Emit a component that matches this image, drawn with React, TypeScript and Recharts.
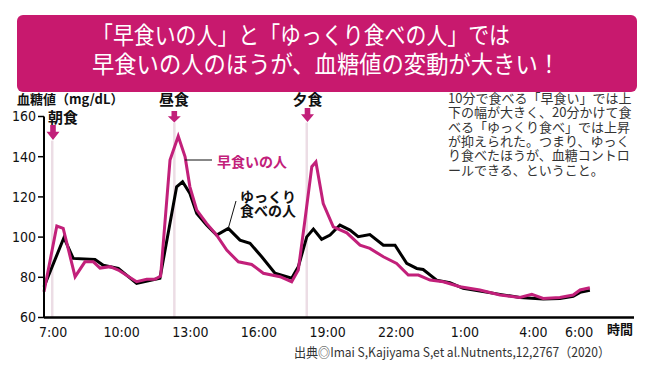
import { LineChart, Line, XAxis, YAxis, ReferenceLine } from "recharts";

// 早食い (10分) — time in hours from midnight (25 = 1:00 next day)
const fastHours = [6.6, 7.16, 7.44, 7.96, 8.39, 8.76, 9.05, 9.49, 9.85, 10.65, 11.09, 11.45, 11.7, 12.11, 12.47, 12.77, 12.98, 13.28, 13.71, 14.15, 14.59, 15.1, 15.68, 16.19, 16.92, 17.43, 17.72, 18.01, 18.31, 18.49, 18.81, 19.25, 19.84, 20.42, 20.85, 21.44, 22.02, 22.53, 22.97, 23.48, 24.06, 24.79, 25.66, 26.54, 27.41, 27.93, 28.43, 29.16, 29.74, 30.04, 30.47];
const fastValues = [72.8, 105.5, 104.3, 80.3, 87.7, 87.7, 84.6, 85.3, 83.6, 77.8, 79, 79, 80.6, 138.3, 150.2, 139.9, 125, 113.4, 106.8, 101, 93.5, 87.7, 86.4, 82, 80.3, 77.8, 83.6, 108.4, 135, 137.4, 116.7, 105.1, 102.1, 96, 94.4, 90.2, 86.9, 81.1, 81.1, 78.6, 77.8, 75.3, 73.7, 71.2, 70, 71.5, 69.5, 70, 71.2, 73.7, 74.8];

// ゆっくり食べ (20分)
const slowHours = [6.6, 7.47, 7.88, 8.83, 9.19, 9.85, 10.65, 11.67, 12.4, 12.66, 12.98, 13.28, 13.71, 14.15, 14.66, 15.17, 15.61, 16.12, 16.7, 17.43, 17.72, 18.09, 18.38, 18.74, 19.11, 19.54, 19.98, 20.34, 20.85, 21.44, 21.95, 22.46, 22.9, 23.18, 23.77, 24.35, 24.93, 25.66, 26.54, 27.41, 28.43, 29.16, 29.74, 30.04, 30.47];
const slowValues = [75.3, 99.7, 89.4, 88.9, 86, 84.4, 77, 79.5, 125, 127.5, 121.7, 111.8, 106, 101, 104.3, 98.5, 96.9, 90.2, 82, 79.5, 85.2, 100.1, 104, 98.9, 101, 106, 103.5, 100.2, 101.3, 96, 96, 86.9, 84.4, 83.9, 78.6, 77.3, 74.5, 73.2, 71.5, 70, 69.2, 69.5, 70.5, 72.5, 73.5];

const xTicks = [7, 10, 13, 16, 19, 22, 25, 28, 30];
const yTicks = [60, 80, 100, 120, 140, 160];
const mealHours = [6.96, 12.3, 18.09];
const mealTops = [148, 157, 157];

const noteLines = [
  "10分で食べる「早食い」では上",
  "下の幅が大きく、20分かけて食",
  "べる「ゆっくり食べ」では上昇",
  "が抑えられた。つまり、ゆっく",
  "り食べたほうが、血糖コントロ",
  "ールできる、ということ。",
];

const PINK = "#c2207a";
const BANNER = "#c8196e";
const JP = "'Noto Sans CJK JP', 'Noto Sans', sans-serif";
const NUM = "'Liberation Sans Narrow', 'DejaVu Sans Condensed', Roboto, sans-serif";

const fastData = fastHours.map((h, i) => ({ h, v: fastValues[i] }));
const slowData = slowHours.map((h, i) => ({ h, v: slowValues[i] }));

function Arrow({ cx, top, bottom }: { cx: number; top: number; bottom: number }) {
  const head = (bottom - top) * 0.55;
  const mid = bottom - head;
  return (
    <polygon
      fill={PINK}
      points={`${cx - 2.8},${top} ${cx + 2.8},${top} ${cx + 2.8},${mid} ${cx + 6.5},${mid} ${cx},${bottom} ${cx - 6.5},${mid} ${cx - 2.8},${mid}`}
    />
  );
}

export default function App() {
  return (
    <div style={{ position: "absolute", left: 0, top: 0, width: 650, height: 368, background: "#fff", overflow: "hidden" }}>
      <div style={{ position: "absolute", left: 0, top: 0 }}>
        <LineChart width={650} height={368} margin={{ top: 116.5, right: 16, bottom: 20.5, left: 0 }}>
          <XAxis
            dataKey="h"
            type="number"
            domain={[6.6, 32.4]}
            ticks={xTicks}
            allowDecimals
            tickFormatter={(h: number) => `${h % 24}:00`}
            tickLine={false}
            axisLine={{ stroke: "#000", strokeWidth: 2.5 }}
            tick={{ fill: "#111", fontSize: 14, fontFamily: NUM }}
            tickMargin={4}
          />
          <YAxis
            type="number"
            domain={[60, 160]}
            ticks={yTicks}
            width={44}
            axisLine={{ stroke: "#000", strokeWidth: 2 }}
            tickLine={{ stroke: "#000", strokeWidth: 1.5 }}
            tickSize={6}
            tick={{ fill: "#111", fontSize: 14, fontFamily: NUM }}
          />
          {mealHours.map((m, i) => (
            <ReferenceLine
              key={i}
              segment={[{ x: m, y: mealTops[i] }, { x: m, y: 60 }]}
              stroke="#ecdde5"
              strokeWidth={2.5}
            />
          ))}
          <Line data={slowData} dataKey="v" type="linear" stroke="#000" strokeWidth={3} dot={false} isAnimationActive={false} />
          <Line data={fastData} dataKey="v" type="linear" stroke={PINK} strokeWidth={3} dot={false} isAnimationActive={false} />
        </LineChart>
      </div>

      <svg width={650} height={368} style={{ position: "absolute", left: 0, top: 0, pointerEvents: "none" }}>
        {/* title banner */}
        <rect x={17} y={15} width={620} height={77} rx={6} fill={BANNER} />
        <text x={92} y={44} fill="#fff" fontSize={24} fontFamily={JP} textLength={418} lengthAdjust="spacingAndGlyphs">
          「早食いの人」と「ゆっくり食べの人」では
        </text>
        <text x={92} y={73} fill="#fff" fontSize={24} fontFamily={JP} textLength={468} lengthAdjust="spacingAndGlyphs">
          早食いの人のほうが、血糖値の変動が大きい！
        </text>

        {/* axis title */}
        <text x={17} y={104} fontSize={13} fontWeight={700} fontFamily={JP} fill="#111">
          血糖値（mg/dL）
        </text>

        {/* meals */}
        <text x={48} y={122.5} fontSize={15} fontWeight={700} fontFamily={JP} fill="#111">朝食</text>
        <text x={174} y={104.5} fontSize={15} fontWeight={700} fontFamily={JP} fill="#111" textAnchor="middle">昼食</text>
        <text x={307.5} y={104.5} fontSize={15} fontWeight={700} fontFamily={JP} fill="#111" textAnchor="middle">夕食</text>
        <Arrow cx={53} top={125} bottom={140} />
        <Arrow cx={174.3} top={111} bottom={122.5} />
        <Arrow cx={307.5} top={108} bottom={122} />

        {/* series labels */}
        <line x1={185} y1={160} x2={212} y2={160} stroke="#111" strokeWidth={1} />
        <text x={217} y={167} fontSize={14} fontWeight={700} fontFamily={JP} fill={PINK}>早食いの人</text>
        <line x1={228.3} y1={228.3} x2={236} y2={201} stroke="#111" strokeWidth={1} />
        <text x={240} y={201.5} fontSize={14} fontWeight={700} fontFamily={JP} fill="#111">ゆっくり</text>
        <text x={240} y={215.5} fontSize={14} fontWeight={700} fontFamily={JP} fill="#111">食べの人</text>

        {/* note */}
        {noteLines.map((t, i) => (
          <text key={i} x={448} y={103 + i * 14.3} fontSize={13} fontFamily={JP} fill="#333">
            {t}
          </text>
        ))}

        <text x={607} y={334} fontSize={13} fontWeight={700} fontFamily={JP} fill="#111">時間</text>
        <text x={294} y={357} fontSize={13} fontFamily={JP} fill="#333" textLength={316} lengthAdjust="spacingAndGlyphs">
          出典◎Imai S,Kajiyama S,et al.Nutnents,12,2767（2020）
        </text>
      </svg>
    </div>
  );
}
